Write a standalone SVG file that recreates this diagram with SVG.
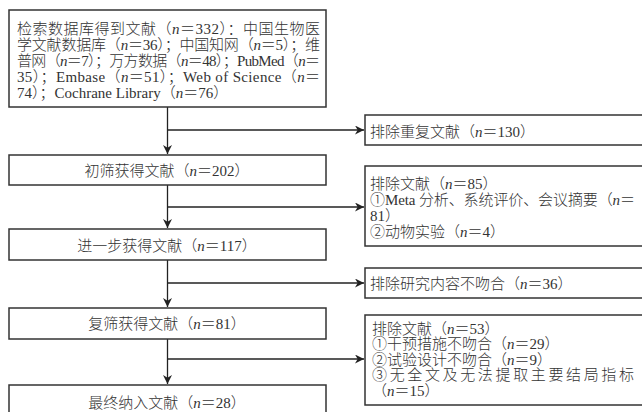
<svg xmlns="http://www.w3.org/2000/svg" width="642" height="412" viewBox="0 0 642 412">
<style>
text{font-family:"Liberation Serif","Noto Sans CJK SC",serif;font-size:15px;font-weight:300;fill:#333}
.c{text-anchor:middle}
.i{font-style:italic}
rect{fill:#fff;stroke:#333;stroke-width:1.5}
.ln{fill:none;stroke:#222;stroke-width:1.3}
</style>
<defs>
<marker id="ah" viewBox="0 0 10 10" refX="10" refY="5" markerWidth="9" markerHeight="9" markerUnits="userSpaceOnUse" orient="auto">
<path d="M0,0 L10,5 L0,10 L3,5 z" fill="#222"/>
</marker>
</defs>
<rect width="642" height="412" style="fill:#fff;stroke:none"/>
<g id="connectors">
<path class="ln" d="M167.5,107 V154" marker-end="url(#ah)"/>
<path class="ln" d="M167.5,185 V228" marker-end="url(#ah)"/>
<path class="ln" d="M167.5,260 V307" marker-end="url(#ah)"/>
<path class="ln" d="M167.5,339 V384" marker-end="url(#ah)"/>
<path class="ln" d="M167.5,130 H364" marker-end="url(#ah)"/>
<path class="ln" d="M167.5,207 H364" marker-end="url(#ah)"/>
<path class="ln" d="M167.5,283 H364" marker-end="url(#ah)"/>
<path class="ln" d="M167.5,359 H364" marker-end="url(#ah)"/>
</g>
<g id="n1">
<rect x="9" y="10" width="317" height="97"/>
<text x="17" y="34" textLength="303" lengthAdjust="spacing">检索数据库得到文献（<tspan class="i">n</tspan>＝332）：中国生物医</text>
<text x="17" y="50" textLength="303" lengthAdjust="spacing">学文献数据库（<tspan class="i">n</tspan>＝36）；中国知网（<tspan class="i">n</tspan>＝5）；维</text>
<text x="17" y="66" textLength="303" lengthAdjust="spacing">普网（<tspan class="i">n</tspan>＝7）；万方数据（<tspan class="i">n</tspan>＝48）；PubMed（<tspan class="i">n</tspan>＝</text>
<text x="17" y="82" textLength="303" lengthAdjust="spacing">35）；Embase（<tspan class="i">n</tspan>＝51）；Web of Science（<tspan class="i">n</tspan>＝</text>
<text x="17" y="98">74）；Cochrane Library（<tspan class="i">n</tspan>＝76）</text>
</g>
<g id="n2">
<rect x="9" y="155" width="317" height="30"/>
<text class="c" x="167" y="175.5">初筛获得文献（<tspan class="i">n</tspan>＝202）</text>
</g>
<g id="n3">
<rect x="9" y="229" width="317" height="31"/>
<text class="c" x="167" y="251">进一步获得文献（<tspan class="i">n</tspan>＝117）</text>
</g>
<g id="n4">
<rect x="9" y="308" width="317" height="31"/>
<text class="c" x="167" y="329">复筛获得文献（<tspan class="i">n</tspan>＝81）</text>
</g>
<g id="n5">
<rect x="9" y="385" width="317" height="40"/>
<text class="c" x="167" y="407.5">最终纳入文献（<tspan class="i">n</tspan>＝28）</text>
</g>
<g id="e1">
<rect x="365" y="115" width="290" height="30"/>
<text x="370" y="137">排除重复文献（<tspan class="i">n</tspan>＝130）</text>
</g>
<g id="e2">
<rect x="365" y="166" width="290" height="80"/>
<text x="370" y="188.5">排除文献（<tspan class="i">n</tspan>＝85）</text>
<text x="370" y="205" textLength="265" lengthAdjust="spacing">①Meta 分析、系统评价、会议摘要（<tspan class="i">n</tspan>＝</text>
<text x="370" y="220.5">81）</text>
<text x="370" y="237">②动物实验（<tspan class="i">n</tspan>＝4）</text>
</g>
<g id="e3">
<rect x="365" y="268" width="290" height="30"/>
<text x="370" y="289">排除研究内容不吻合（<tspan class="i">n</tspan>＝36）</text>
</g>
<g id="e4">
<rect x="365" y="315" width="290" height="90"/>
<text x="372" y="333.5">排除文献（<tspan class="i">n</tspan>＝53）</text>
<text x="372" y="349">①干预措施不吻合（<tspan class="i">n</tspan>＝29）</text>
<text x="372" y="364.5">②试验设计不吻合（<tspan class="i">n</tspan>＝9）</text>
<text x="372" y="380" textLength="262" lengthAdjust="spacing">③无全文及无法提取主要结局指标</text>
<text x="372" y="395.5">（<tspan class="i">n</tspan>＝15）</text>
</g>
</svg>
